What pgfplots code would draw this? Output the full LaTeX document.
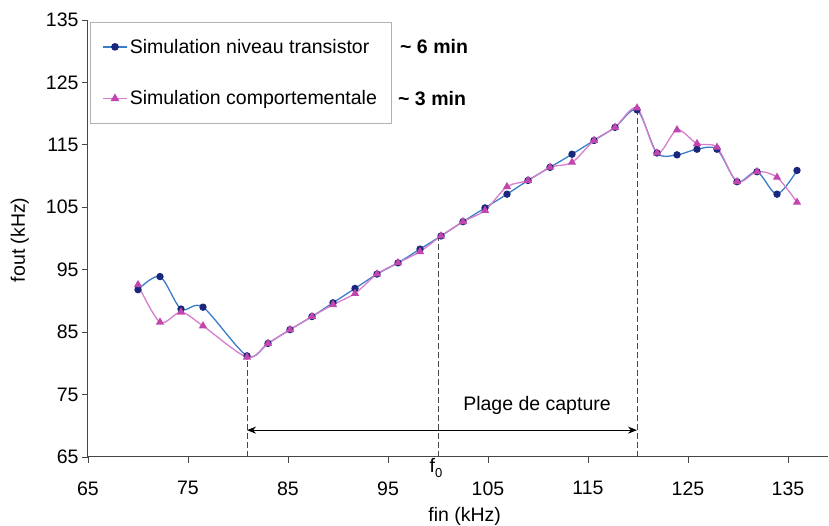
\documentclass[border=0pt]{standalone}
\usepackage{fontspec}
\setmainfont{Liberation Sans}
\usepackage{pgfplots}
\pgfplotsset{compat=1.18}
\usetikzlibrary{arrows.meta}
\definecolor{bline}{RGB}{55,125,200}
\definecolor{bmark}{RGB}{25,40,125}
\definecolor{pline}{RGB}{215,125,205}
\definecolor{pmark}{RGB}{195,70,175}
\definecolor{axgray}{RGB}{70,70,70}
\newcommand{\fs}{\fontsize{19.5}{22}\selectfont}
\begin{document}
\begin{tikzpicture}
\begin{axis}[
 scale only axis, width=740pt, height=437pt,
 xmin=65, xmax=139, ymin=65, ymax=135,
 axis lines*=left, clip=false,
 axis line style={axgray, line width=1pt},
 xtick={65,75,...,135}, ytick={65,75,...,135},
 tick align=outside, tick style={axgray, line width=0.8pt}, major tick length=6pt,
 /pgf/number format/assume math mode=true,
 tick label style={font=\fs, text=black},
 xticklabel style={yshift=-15pt},
 xlabel={fin (kHz)}, ylabel={fout (kHz)},
 label style={font=\fs},
 xlabel style={at={(axis description cs:0.509,-0.136)}, anchor=center},
 ylabel style={at={(axis description cs:-0.092,0.497)}, anchor=center},
 legend style={at={(axis cs:65.2,134.7)}, anchor=north west, draw=gray!60, fill=white,
   font=\fs, inner xsep=12pt, inner ysep=15pt, row sep=32pt, cells={anchor=west}},
 legend image code/.code={\draw[mark repeat=2,mark phase=2, line width=1.6pt] plot coordinates {(0pt,0pt)(12pt,0pt)(24pt,0pt)};},
]
\addplot[color=bline, line width=1.3pt, smooth, tension=0.5, mark=*, mark size=3pt,
  mark options={fill=bmark, draw=bmark}] coordinates {
(70.0,91.8) (72.2,93.9) (74.3,88.7) (76.5,89.0) (80.9,81.2) (83.0,83.2) (85.2,85.4)
(87.4,87.5) (89.5,89.7) (91.7,92.0) (93.9,94.3) (96.0,96.1) (98.2,98.3) (100.3,100.4)
(102.5,102.7) (104.7,104.9) (106.9,107.1) (109.0,109.3) (111.2,111.4) (113.4,113.5)
(115.6,115.7) (117.7,117.8) (119.9,120.6) (121.9,113.7) (123.9,113.4) (125.9,114.3)
(127.9,114.3) (129.9,109.1) (131.9,110.7) (133.9,107.1) (135.9,110.9)};
\addlegendentry{Simulation niveau transistor}
\addplot[color=pline, line width=1.3pt, smooth, tension=0.5, mark=triangle*, mark size=3.5pt,
  mark options={fill=pmark, draw=pmark}] coordinates {
(70.0,92.6) (72.2,86.6) (74.3,88.2) (76.5,86.0) (80.9,81.0) (83.0,83.2) (85.2,85.4)
(87.4,87.5) (89.5,89.4) (91.7,91.2) (93.9,94.3) (96.0,96.1) (98.2,97.9) (100.3,100.4)
(102.5,102.7) (104.7,104.5) (106.9,108.3) (109.0,109.3) (111.2,111.4) (113.4,112.2)
(115.6,115.7) (117.7,117.8) (119.9,120.9) (121.9,113.7) (123.9,117.4) (125.9,115.2)
(127.9,114.6) (129.9,109.1) (131.9,110.7) (133.9,109.8) (135.9,105.8)};
\addlegendentry{Simulation comportementale}
\draw[axgray, dash pattern=on 6pt off 3pt, line width=1pt] (axis cs:80.9,65) -- (axis cs:80.9,80.8);
\draw[axgray, dash pattern=on 6pt off 3pt, line width=1pt] (axis cs:100,65) -- (axis cs:100,100.4);
\draw[axgray, dash pattern=on 6pt off 3pt, line width=1pt] (axis cs:119.9,65) -- (axis cs:119.9,120.6);
\draw[{Stealth[length=9pt,width=7pt]}-{Stealth[length=9pt,width=7pt]}, line width=1pt] (axis cs:80.9,69.3) -- (axis cs:119.9,69.3);
\node[font=\fs] at (axis cs:109.9,73.3) {Plage de capture};
\node[font=\fs, anchor=north, inner sep=0pt] at (axis cs:99.8,64.8) {f\raisebox{-5pt}{\fontsize{13}{14}\selectfont 0}};
\node[font=\fs\bfseries, anchor=west, inner sep=0pt] at (axis cs:96.2,130.7) {\textasciitilde\ 6 min};
\node[font=\fs\bfseries, anchor=west, inner sep=0pt] at (axis cs:96.0,122.4) {\textasciitilde\ 3 min};
\end{axis}
\pgfresetboundingbox
\path ([shift={(-88pt,-69pt)}]current axis.south west) rectangle ([shift={(1pt,20pt)}]current axis.north east);
\end{tikzpicture}
\end{document}
